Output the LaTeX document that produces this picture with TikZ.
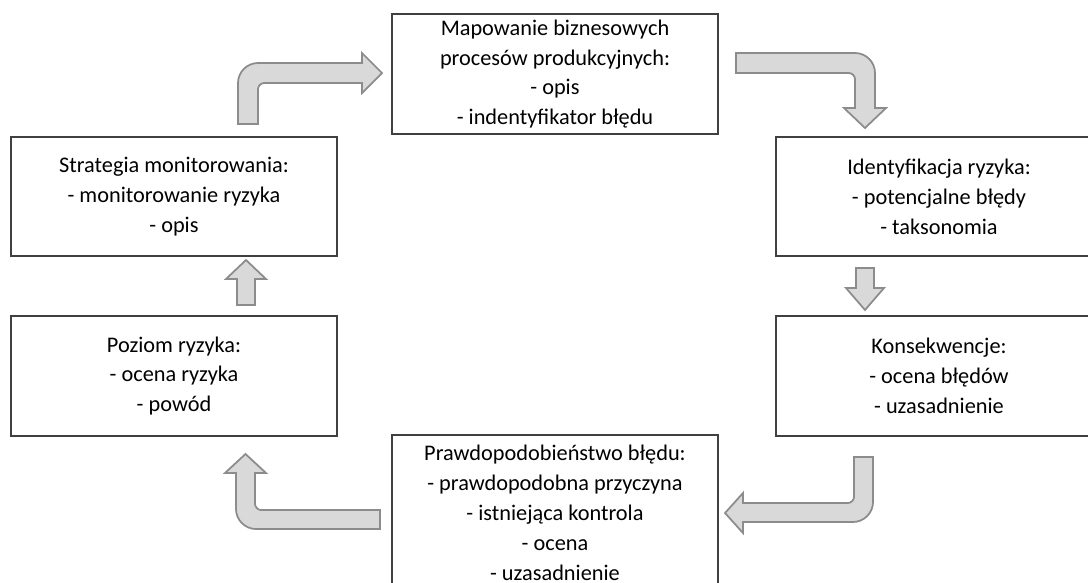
\documentclass[tikz,border=0pt]{standalone}
\usepackage{fontspec}
\setmainfont{Carlito}
\usepackage{tikz}
\usetikzlibrary{calc}

\begin{document}
\begin{tikzpicture}[x={(0.02cm,0)},y={(0,-0.02cm)},
  font=\fontsize{12.7}{17}\selectfont,
  stage/.style={draw=black!75,line width=0.8pt,align=center,minimum width=6.52cm,inner sep=0pt},
  blockarrow/.style={draw=black!45,line width=1pt,fill=black!15,line join=miter}]
  \useasboundingbox (0,0) rectangle (1088,582);
  % stages of the cycle
  \node[stage,minimum height=2.4cm] (map) at (555,74) {Mapowanie biznesowych\\procesów produkcyjnych:\\- opis\\- indentyfikator błędu};
  \node[stage,minimum height=2.38cm] (ident) at (939,196.5) {Identyfikacja ryzyka:\\- potencjalne błędy\\- taksonomia};
  \node[stage,minimum height=2.4cm] (kons) at (939,376) {Konsekwencje:\\- ocena błędów\\- uzasadnienie};
  \node[stage,minimum height=3.12cm] (prawd) at (555,513) {Prawdopodobieństwo błędu:\\- prawdopodobna przyczyna\\- istniejąca kontrola\\- ocena\\- uzasadnienie};
  \node[stage,minimum height=2.4cm] (poziom) at (174,376) {Poziom ryzyka:\\- ocena ryzyka\\- powód};
  \node[stage,minimum height=2.38cm] (strat) at (174,196.5) {Strategia monitorowania:\\- monitorowanie ryzyka\\- opis};
  % block arrows between the stages
  \draw[blockarrow] (238,124) -- (238,83) .. controls (238,72) and (247,63) .. (258,63) -- (362,63) -- (362,53)
    -- (382,73) -- (362,93) -- (362,83) -- (264,83) .. controls (261,83) and (258,86) .. (258,89) -- (258,124) -- cycle;
  \draw[blockarrow] (736,53) -- (855,53) .. controls (866,53) and (875,62) .. (875,73) -- (875,108) -- (886,108)
    -- (865,128) -- (844,108) -- (855,108) -- (855,79) .. controls (855,76) and (852,73) .. (849,73) -- (736,73) -- cycle;
  \draw[blockarrow] (856,268) -- (874,268) -- (874,288) -- (884,288) -- (865,310) -- (846,288) -- (856,288) -- cycle;
  \draw[blockarrow] (854,457) -- (873,457) -- (873,502) .. controls (873,513) and (864,522) .. (853,522) -- (743,522)
    -- (743,533) -- (725,513) -- (743,493) -- (743,503) -- (848,503) .. controls (851,503) and (854,500) .. (854,497) -- cycle;
  \draw[blockarrow] (380,510) -- (380,529) -- (256,529) .. controls (245,529) and (236,520) .. (236,509) -- (236,473)
    -- (225,473) -- (245.5,454) -- (266,473) -- (255,473) -- (255,504) .. controls (255,507) and (258,510) .. (261,510) -- cycle;
  \draw[blockarrow] (237,305) -- (237,279) -- (226,279) -- (246,260) -- (266,279) -- (255,279) -- (255,305) -- cycle;
\end{tikzpicture}
\end{document}
